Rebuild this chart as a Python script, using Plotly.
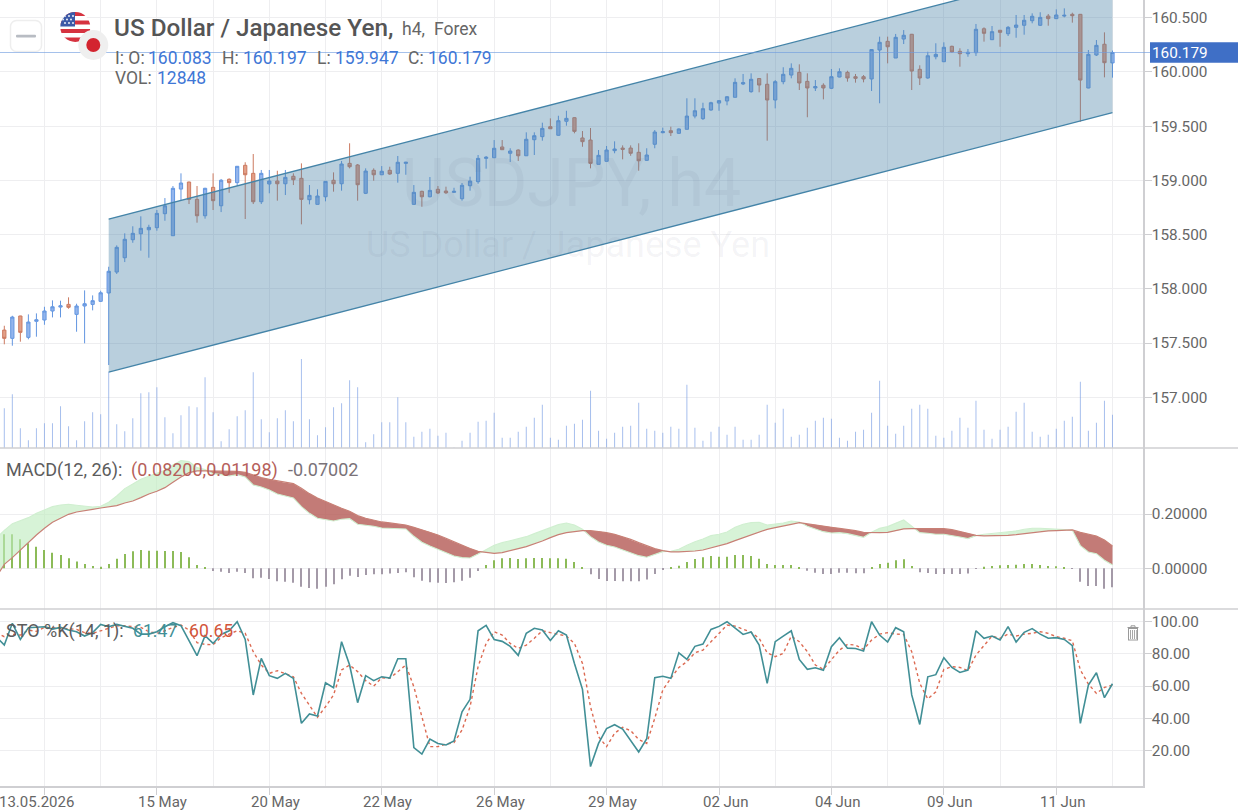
import base64
import plotly.graph_objects as go

# USD/JPY four-hour session data
opens = [157.620,157.544,157.750,157.553,157.701,157.713,157.796,157.832,157.857,157.765,
157.842,157.857,157.885,157.962,158.155,158.287,158.453,158.508,158.545,158.564,
158.693,158.490,158.920,158.985,158.825,158.674,158.936,158.766,159.010,158.979,
159.139,159.065,158.803,158.967,158.994,158.969,159.038,159.019,158.822,158.779,
158.849,159.001,158.969,159.157,159.142,158.881,159.093,159.052,159.093,159.065,
159.157,158.779,158.899,158.849,158.918,158.902,158.890,158.831,158.951,158.988,
159.203,159.209,159.308,159.250,159.280,159.227,159.375,159.403,159.495,159.416,
159.545,159.578,159.391,159.372,159.148,159.176,159.274,159.298,159.298,159.259,
159.185,159.333,159.440,159.458,159.434,159.471,159.593,159.569,159.649,159.713,
159.732,159.766,159.889,159.818,159.939,159.886,159.741,159.910,159.971,159.996,
159.913,159.852,159.877,159.849,159.953,159.996,159.956,159.956,159.935,160.202,
160.282,160.128,160.303,160.347,160.024,159.944,160.140,160.094,160.236,160.190,
160.168,160.177,160.398,160.297,160.384,160.352,160.411,160.430,160.472,160.430,
160.515,160.491,160.515,160.531,160.531,159.852,160.156,160.255,160.083]
highs = [157.660,157.752,157.752,157.765,157.774,157.835,157.894,157.891,157.922,157.863,
157.986,157.940,157.983,158.204,158.401,158.512,158.577,158.669,158.591,158.727,
158.837,158.948,159.065,158.988,158.948,158.932,159.065,159.013,159.019,159.132,
159.167,159.243,159.096,159.096,159.089,159.096,159.065,159.157,158.957,158.918,
158.994,159.074,159.179,159.342,159.151,159.111,159.111,159.132,159.126,159.225,
159.172,158.957,158.905,159.031,158.948,158.942,158.932,158.976,159.034,159.234,
159.225,159.372,159.372,159.296,159.286,159.443,159.443,159.532,159.572,159.596,
159.642,159.582,159.455,159.483,159.280,159.317,159.360,159.323,159.323,159.342,
159.296,159.464,159.486,159.495,159.480,159.757,159.757,159.716,159.725,159.741,
159.778,159.941,159.981,159.987,159.941,159.987,159.925,160.043,160.079,160.070,
159.987,159.925,159.895,160.027,160.033,160.011,159.981,159.971,160.208,160.325,
160.325,160.350,160.386,160.350,160.061,160.186,160.264,160.273,160.242,160.218,
160.211,160.442,160.411,160.423,160.386,160.423,160.525,160.525,160.540,160.550,
160.534,160.577,160.586,160.546,160.534,160.202,160.294,160.365,160.197]
lows = [157.489,157.476,157.513,157.535,157.559,157.669,157.737,157.737,157.817,157.605,
157.498,157.802,157.881,157.298,158.137,158.247,158.425,158.352,158.287,158.536,
158.628,158.490,158.813,158.782,158.610,158.647,158.727,158.708,158.886,158.951,
158.644,158.782,158.782,158.881,158.813,158.865,158.957,158.595,158.779,158.779,
158.807,158.896,158.905,159.111,158.813,158.874,158.997,159.049,159.052,158.979,
159.052,158.776,158.757,158.844,158.874,158.874,158.886,158.813,158.905,158.969,
159.108,159.209,159.283,159.169,159.179,159.227,159.234,159.366,159.474,159.412,
159.504,159.434,159.310,159.111,159.148,159.172,159.250,159.194,159.227,159.089,
159.181,159.296,159.434,159.409,159.430,159.471,159.572,159.557,159.642,159.642,
159.692,159.766,159.879,159.808,159.812,159.366,159.664,159.886,159.941,159.833,
159.582,159.824,159.747,159.842,159.950,159.910,159.901,159.904,159.824,159.711,
160.079,160.128,160.257,159.833,159.879,159.937,160.116,160.091,160.177,160.048,
160.140,160.147,160.279,160.294,160.232,160.331,160.315,160.343,160.448,160.423,
160.426,160.488,160.503,160.454,159.541,159.849,160.147,159.950,159.947]
closes = [157.544,157.740,157.599,157.694,157.715,157.796,157.835,157.844,157.830,157.842,
157.863,157.891,157.964,158.162,158.383,158.457,158.512,158.558,158.567,158.696,
158.766,158.927,158.976,158.825,158.674,158.927,158.813,159.001,158.979,159.130,
159.052,158.803,159.065,158.994,158.969,159.028,159.006,158.825,158.862,158.856,
158.991,158.969,159.151,159.126,158.960,159.086,159.052,159.084,159.059,159.167,
159.167,158.890,158.849,158.908,158.884,158.886,158.899,158.955,158.994,159.203,
159.213,159.296,159.283,159.271,159.227,159.379,159.412,159.480,159.476,159.550,
159.572,159.452,159.357,159.157,159.231,159.280,159.289,159.286,159.250,159.181,
159.234,159.446,159.449,159.440,159.474,159.593,159.642,159.661,159.716,159.735,
159.771,159.904,159.901,159.932,159.879,159.741,159.910,159.978,160.033,159.898,
159.852,159.865,159.852,159.956,160.002,159.944,159.941,159.935,160.206,160.273,
160.232,160.319,160.338,160.008,159.944,160.149,160.162,160.227,160.184,160.168,
160.181,160.393,160.356,160.371,160.365,160.411,160.432,160.476,160.513,160.503,
160.491,160.525,160.522,160.518,159.925,160.162,160.245,160.085,160.179]
volumes = [15324,20728,7604,2972,7604,9534,9534,16096,8376,2972,
10306,13780,13008,29336,9148,6446,11464,21114,21500,23430,
11850,5674,12622,16096,15710,27290,13780,2586,7218,12236,
14552,29220,11078,6060,11464,14552,10306,34354,11078,4902,
7990,15710,17254,26132,23430,2200,5288,9920,9920,19570,
9920,4362,6292,7450,4748,5906,193,2818,5906,10152,
10538,13626,3976,3976,6292,8222,11696,16714,3976,3204,
8608,9380,10924,22118,6678,3590,5906,8222,8608,17486,
7450,6678,5906,8222,7450,24434,7836,2818,6292,8222,
5134,8222,3204,3204,5134,16714,9766,15170,4362,5134,
7836,10538,11696,11310,3976,2818,6292,7064,13626,25978,
8608,5520,8608,15170,16714,15170,4748,3976,6678,11696,
7836,18258,7064,3590,7064,8222,14012,17486,6292,4362,
5134,7450,10538,12082,25592,6678,9766,18258,12848]

# The indicator series carry one extra bar before the first candle
macd_main = [-0.0319,0.0147,0.0393,0.0675,0.0945,0.1228,0.1473,0.1694,0.1842,0.1989,0.2075,
0.2136,0.2173,0.2222,0.2271,0.2308,0.2406,0.2480,0.2603,0.2738,0.2836,
0.2971,0.3168,0.3364,0.3524,0.3585,0.3585,0.3585,0.3573,0.3573,0.3573,
0.3536,0.3438,0.3339,0.3278,0.3217,0.3155,0.3118,0.2947,0.2750,0.2590,
0.2455,0.2333,0.2210,0.2099,0.1940,0.1842,0.1768,0.1707,0.1670,0.1645,
0.1596,0.1510,0.1412,0.1338,0.1228,0.1105,0.0970,0.0847,0.0724,0.0626,
0.0577,0.0553,0.0577,0.0638,0.0724,0.0798,0.0896,0.1007,0.1130,0.1240,
0.1314,0.1363,0.1387,0.1387,0.1363,0.1314,0.1252,0.1166,0.1068,0.0945,
0.0823,0.0724,0.0651,0.0602,0.0602,0.0614,0.0638,0.0675,0.0749,0.0823,
0.0909,0.1019,0.1130,0.1228,0.1338,0.1436,0.1498,0.1547,0.1621,0.1682,
0.1633,0.1608,0.1559,0.1510,0.1473,0.1436,0.1387,0.1326,0.1314,0.1314,
0.1326,0.1375,0.1449,0.1461,0.1461,0.1461,0.1461,0.1461,0.1424,0.1363,
0.1289,0.1215,0.1191,0.1191,0.1191,0.1215,0.1240,0.1277,0.1314,0.1351,
0.1375,0.1387,0.1400,0.1412,0.1326,0.1252,0.1191,0.1044,0.08200]
macd_hist = [0.1420,0.1252,0.1252,0.1068,0.0921,0.0798,0.0675,0.0577,0.0491,0.0368,0.0246,
0.0160,0.0086,0.0061,0.0160,0.0356,0.0528,0.0626,0.0675,0.0651,0.0651,
0.0638,0.0638,0.0602,0.0405,0.0123,0.0049,-0.0098,-0.0123,-0.0172,-0.0123,
-0.0172,-0.0368,-0.0344,-0.0393,-0.0479,-0.0491,-0.0528,-0.0675,-0.0724,-0.0749,
-0.0675,-0.0589,-0.0405,-0.0270,-0.0319,-0.0246,-0.0221,-0.0221,-0.0196,-0.0172,
-0.0147,-0.0331,-0.0454,-0.0516,-0.0528,-0.0540,-0.0516,-0.0454,-0.0344,-0.0098,
0.0123,0.0295,0.0368,0.0381,0.0344,0.0368,0.0381,0.0381,0.0368,0.0368,
0.0356,0.0233,0.0049,-0.0221,-0.0393,-0.0467,-0.0467,-0.0479,-0.0479,-0.0479,
-0.0417,-0.0209,-0.0037,0.0025,0.0098,0.0233,0.0344,0.0405,0.0454,0.0430,
0.0430,0.0491,0.0491,0.0454,0.0356,0.0160,0.0123,0.0123,0.0123,0.0025,
-0.0086,-0.0160,-0.0209,-0.0209,-0.0160,-0.0160,-0.0184,-0.0184,0.0012,0.0160,
0.0209,0.0295,0.0331,0.0086,-0.0147,-0.0172,-0.0209,-0.0209,-0.0209,-0.0209,
-0.0196,-0.0012,0.0061,0.0086,0.0110,0.0123,0.0135,0.0160,0.0160,0.0123,
0.0086,0.0074,0.0025,-0.0012,-0.0491,-0.0651,-0.0651,-0.0749,-0.07002]
sto_k = [90.7,85.5,99.0,89.0,96.3,96.5,96.9,95.4,96.5,94.8,93.8,
91.1,93.2,98.3,96.9,98.3,96.9,95.9,92.3,92.3,93.8,
96.9,99.4,97.5,88.2,78.9,91.3,86.5,92.1,94.4,100.0,
89.0,54.5,77.2,66.5,64.8,67.9,64.8,36.9,42.7,41.4,
62.1,59.0,87.6,73.1,49.7,66.5,63.4,65.8,65.0,77.0,
77.0,21.8,17.8,27.1,24.4,23.4,25.9,44.1,51.8,94.4,
97.7,89.0,87.8,84.7,79.1,92.8,95.9,94.8,88.4,94.4,
91.7,74.1,58.0,10.0,24.4,33.6,36.0,33.3,26.5,19.1,
27.3,65.2,66.1,64.8,80.7,76.6,84.7,86.1,95.2,97.1,
100.0,95.9,92.1,93.6,85.5,61.7,87.6,91.1,94.4,76.6,
70.4,71.4,69.8,84.5,90.1,83.6,83.4,81.8,100.0,91.7,
87.4,96.3,93.8,54.5,36.2,65.8,67.1,77.6,71.6,68.5,
70.0,94.4,89.7,91.1,88.6,96.9,87.4,93.4,95.7,92.3,
89.7,90.1,89.0,85.1,36.9,60.7,68.3,52.8,61.47]
sto_d = [93.2,90.7,92.1,91.7,94.8,94.0,96.5,96.3,96.3,95.7,95.2,
93.2,92.8,94.2,95.9,97.5,97.5,96.9,96.5,93.8,92.8,
94.4,96.5,97.9,94.8,87.0,85.9,85.7,90.1,92.3,94.4,
92.8,81.4,73.1,67.9,69.6,67.9,65.8,55.5,48.3,40.6,
47.2,54.5,70.0,73.1,69.0,63.4,60.0,65.2,64.8,69.0,
73.1,59.6,41.0,22.4,22.4,24.0,24.9,32.7,47.2,72.1,
86.5,93.8,91.7,86.5,83.4,85.5,89.7,94.4,93.2,92.3,
91.1,86.5,74.1,47.2,28.6,22.4,30.7,34.4,32.3,26.9,
24.4,40.0,57.6,64.8,71.6,75.2,80.7,82.4,87.6,92.3,
97.9,97.3,95.2,93.4,89.7,80.7,78.3,80.3,91.1,87.6,
81.4,73.1,70.4,76.2,82.4,85.9,85.5,82.8,88.6,92.3,
93.2,92.3,92.1,81.4,61.7,52.0,56.5,70.4,72.1,71.6,
69.6,79.3,85.5,91.1,89.7,92.3,91.1,92.3,92.8,93.8,
92.8,90.7,89.7,88.2,70.0,61.3,55.5,59.2,60.65]

# Regression channel anchors: bar index and price at each end
channel_x = [13, 138]
channel_top = [158.644, 161.032]
channel_bottom = [157.233, 159.624]

date_ticks = [19, 33, 47, 61, 75, 89, 103, 117, 131]
date_labels = ["15 May", "20 May", "22 May", "26 May", "29 May", "02 Jun", "04 Jun", "09 Jun", "11 Jun"]
first_date_tick = 5
first_date_label = "13.05.2026"
grid_only_ticks = [12, 26, 40, 54, 68, 82, 96, 110, 124, 138]

price_ticks = [157.0, 157.5, 158.0, 158.5, 159.0, 159.5, 160.0, 160.5]
macd_ticks = [0.0, 0.2]
sto_ticks = [20, 40, 60, 80, 100]

ROBOTO = "Roboto"
GREY = "#666666"
BLUE = "#3f77d6"
AXIS = "#cfcfd2"
GRID = "#eeeef0"
WIDTH, HEIGHT = 1238, 812
PLOT_W, PLOT_H = 1143, 786


def px(x):
    return x / PLOT_W


def py(y):
    return 1 - y / PLOT_H


def label(x, y, text, size, color, anchor="left", weight=None):
    font = dict(family=ROBOTO, size=size, color=color)
    if weight:
        font["weight"] = weight
    return dict(xref="paper", yref="paper", x=px(x), y=py(y), text=text, showarrow=False,
                xanchor=anchor, yanchor="middle", align=anchor, font=font, borderpad=0, borderwidth=0)


def svg_uri(markup):
    return "data:image/svg+xml;base64," + base64.b64encode(markup.encode()).decode()


candle_x = list(range(len(opens)))
indicator_x = list(range(-1, len(opens)))
macd_signal = [m + h for m, h in zip(macd_main, macd_hist)]


def band_polygons(xs, upper, lower, positive):
    """Closed polygons where signal sits above (or below) the main line."""
    out_x, out_y = [], []
    run = []
    for i in range(len(xs)):
        d = upper[i] - lower[i]
        inside = d >= 0 if positive else d <= 0
        if inside:
            if not run and i > 0:
                d0 = upper[i - 1] - lower[i - 1]
                t = d0 / (d0 - d) if d0 != d else 0
                run.append((xs[i - 1] + t, lower[i - 1] + t * (lower[i] - lower[i - 1]),
                            lower[i - 1] + t * (lower[i] - lower[i - 1])))
            run.append((xs[i], upper[i], lower[i]))
        if run and (not inside or i == len(xs) - 1):
            if not inside:
                d0 = upper[i - 1] - lower[i - 1]
                t = d0 / (d0 - d) if d0 != d else 0
                v = lower[i - 1] + t * (lower[i] - lower[i - 1])
                run.append((xs[i - 1] + t, v, v))
            out_x += [r[0] for r in run] + [r[0] for r in reversed(run)] + [None]
            out_y += [r[1] for r in run] + [r[2] for r in reversed(run)] + [None]
            run = []
    return out_x, out_y


fig = go.Figure()

# Volume spikes behind the price panel
fig.add_trace(go.Bar(x=candle_x, y=volumes, width=0.125, xaxis="x", yaxis="y4",
                     marker=dict(color="rgba(125,160,228,0.68)", line=dict(width=0)), showlegend=False))

fig.add_trace(go.Candlestick(
    x=candle_x, open=opens, high=highs, low=lows, close=closes, xaxis="x", yaxis="y",
    whiskerwidth=0, showlegend=False,
    increasing=dict(line=dict(color="#6396e0", width=1), fillcolor="rgba(135,173,235,0.9)"),
    decreasing=dict(line=dict(color="#cc7a60", width=1), fillcolor="rgba(226,155,130,0.95)"),
))

# Channel band and its two edges sit on top of the candles
fig.add_trace(go.Scatter(
    x=channel_x + channel_x[::-1] + channel_x[:1],
    y=channel_top + channel_bottom[::-1] + channel_top[:1],
    mode="lines", line=dict(width=0), fill="toself", fillcolor="rgba(72,130,165,0.38)",
    xaxis="x", yaxis="y", showlegend=False, hoverinfo="skip"))
for edge in (channel_top, channel_bottom):
    fig.add_trace(go.Scatter(x=channel_x, y=edge, mode="lines", line=dict(color="#4484a8", width=1.3),
                             xaxis="x", yaxis="y", showlegend=False, hoverinfo="skip"))

# MACD panel
hist_colors = ["#8cbb58" if v >= 0 else "#a49aa8" for v in macd_hist]
fig.add_trace(go.Bar(x=indicator_x, y=macd_hist, width=0.125, xaxis="x2", yaxis="y2",
                     marker=dict(color=hist_colors, line=dict(width=0)), showlegend=False))
green_x, green_y = band_polygons(indicator_x, macd_signal, macd_main, True)
red_x, red_y = band_polygons(indicator_x, macd_signal, macd_main, False)
fig.add_trace(go.Scatter(x=green_x, y=green_y, mode="lines", line=dict(width=0), fill="toself",
                         fillcolor="rgba(190,236,190,0.62)", xaxis="x2", yaxis="y2",
                         showlegend=False, hoverinfo="skip"))
fig.add_trace(go.Scatter(x=red_x, y=red_y, mode="lines", line=dict(width=0), fill="toself",
                         fillcolor="rgba(180,90,85,0.8)", xaxis="x2", yaxis="y2",
                         showlegend=False, hoverinfo="skip"))
fig.add_trace(go.Scatter(x=indicator_x, y=macd_signal, mode="lines", line=dict(color="#d0efd0", width=1.1),
                         xaxis="x2", yaxis="y2", showlegend=False, hoverinfo="skip"))
fig.add_trace(go.Scatter(x=indicator_x, y=macd_main, mode="lines", line=dict(color="#c88076", width=1.2),
                         xaxis="x2", yaxis="y2", showlegend=False, hoverinfo="skip"))

# Stochastic panel
fig.add_trace(go.Scatter(x=indicator_x, y=sto_d, mode="lines", line=dict(color="#dc6a52", width=1.4, dash="dot"),
                         xaxis="x3", yaxis="y3", showlegend=False, hoverinfo="skip"))
fig.add_trace(go.Scatter(x=indicator_x, y=sto_k, mode="lines", line=dict(color="#418f96", width=1.6),
                         xaxis="x3", yaxis="y3", showlegend=False, hoverinfo="skip"))

x_range = [-0.5355, 141.8]
all_grid = sorted(date_ticks + [first_date_tick])


def x_axis(**extra):
    axis = dict(range=x_range, showgrid=True, gridcolor=GRID, gridwidth=1, zeroline=False, automargin=False,
                tickmode="array", tickvals=all_grid, ticktext=[""] * len(all_grid), ticks="",
                minor=dict(tickmode="array", tickvals=grid_only_ticks, showgrid=True,
                           gridcolor=GRID, gridwidth=1, ticks=""),
                rangeslider=dict(visible=False), showline=False)
    axis.update(extra)
    return axis


def y_axis(domain, rng, tickvals, fmt):
    return dict(domain=domain, range=rng, side="right", tickmode="array", tickvals=tickvals, tickformat=fmt,
                showgrid=True, gridcolor=GRID, gridwidth=1, zeroline=False, showline=True, linecolor=AXIS,
                linewidth=1.5, ticks="outside", ticklen=7, tickcolor=AXIS, tickwidth=1, automargin=False,
                ticklabelstandoff=-3, tickfont=dict(family=ROBOTO, size=15.3, color=GREY))


split_a = (PLOT_H - 448) / PLOT_H
split_b = (PLOT_H - 609) / PLOT_H

last = len(opens) - 1
box_half = 0.095
shapes = [
    dict(type="line", xref="paper", yref="paper", x0=0, x1=WIDTH / PLOT_W, y0=split_a, y1=split_a,
         line=dict(color=AXIS, width=1.5)),
    dict(type="line", xref="paper", yref="paper", x0=0, x1=WIDTH / PLOT_W, y0=split_b, y1=split_b,
         line=dict(color=AXIS, width=1.5)),
    dict(type="line", xref="paper", yref="y", x0=0, x1=WIDTH / PLOT_W, y0=closes[last], y1=closes[last],
         line=dict(color="rgba(110,155,222,0.62)", width=1)),
    dict(type="rect", xref="paper", yref="y", x0=px(1150), x1=WIDTH / PLOT_W,
         y0=closes[last] - box_half, y1=closes[last] + box_half,
         fillcolor="#3f6fc6", line=dict(width=0)),
    # Data-source badge next to the flag
    dict(type="circle", xref="paper", yref="paper", x0=px(78.3), x1=px(108.3), y0=py(60), y1=py(30),
         fillcolor="#efefef", line=dict(width=0)),
    dict(type="circle", xref="paper", yref="paper", x0=px(86.3), x1=px(100.3), y0=py(52), y1=py(38),
         fillcolor="#d3242f", line=dict(width=0)),
]

flag_svg = """<svg xmlns="http://www.w3.org/2000/svg" width="120" height="60" viewBox="0 0 120 60">
<defs><clipPath id="c"><circle cx="75.3" cy="27" r="15"/></clipPath></defs>
<rect x="10.5" y="20.5" width="31" height="31" rx="6" fill="#ffffff" stroke="#eeeeee" stroke-width="1.5"/>
<rect x="16" y="34.8" width="20" height="2.6" rx="1" fill="#b8bcc3"/>
<g clip-path="url(#c)"><rect x="60" y="12" width="31" height="31" fill="#ffffff"/>
<rect x="60" y="12" width="31" height="4" fill="#d63340"/><rect x="60" y="20.5" width="31" height="4" fill="#d63340"/>
<rect x="60" y="29" width="31" height="4" fill="#d63340"/><rect x="60" y="37.5" width="31" height="5" fill="#d63340"/>
<rect x="60" y="12" width="15" height="14.5" fill="#3c5aa8"/>
<g fill="#ffffff"><circle cx="65" cy="16" r="0.9"/><circle cx="69" cy="16" r="0.9"/><circle cx="73" cy="16" r="0.9"/>
<circle cx="63" cy="19.5" r="0.9"/><circle cx="67" cy="19.5" r="0.9"/><circle cx="71" cy="19.5" r="0.9"/>
<circle cx="65" cy="23" r="0.9"/><circle cx="69" cy="23" r="0.9"/><circle cx="73" cy="23" r="0.9"/></g></g></svg>"""

trash_svg = """<svg xmlns="http://www.w3.org/2000/svg" width="12" height="16" viewBox="0 0 12 16">
<g fill="none" stroke="#9a9a9a" stroke-width="1"><path d="M0.5 2.5H11.5"/><path d="M4 2.5V0.8H8V2.5"/>
<rect x="1.5" y="3.5" width="9" height="11.5"/></g>
<g fill="#a8a8a8"><rect x="3" y="5" width="1" height="9"/><rect x="5" y="5" width="1" height="9"/>
<rect x="7" y="5" width="1" height="9"/><rect x="9" y="5" width="0.8" height="9"/></g></svg>"""

images = [
    dict(source=svg_uri(flag_svg), xref="paper", yref="paper", x=0, y=1, sizex=px(120), sizey=60 / PLOT_H,
         xanchor="left", yanchor="top", sizing="stretch", layer="above"),
    dict(source=svg_uri(trash_svg), xref="paper", yref="paper", x=px(1127), y=py(625), sizex=px(12),
         sizey=16 / PLOT_H, xanchor="left", yanchor="top", sizing="stretch", layer="above"),
]

annotations = [
    # Watermark
    label(571, 183, "USDJPY, h4", 66, "rgba(95,110,130,0.075)", anchor="center"),
    label(568, 245, "US Dollar / Japanese Yen", 36, "rgba(95,110,130,0.07)", anchor="center"),
    # Header
    label(114, 28, "US Dollar / Japanese Yen,", 24.3, "#555555", weight=500),
    label(402, 29, "h4,", 17.5, "#666666"),
    label(434, 29, "Forex", 17.5, "#666666"),
    label(115, 58, "I: O:", 17.5, GREY),
    label(148, 58, f"{opens[last]:.3f}", 17.5, BLUE),
    label(222, 58, "H:", 17.5, GREY),
    label(243, 58, f"{highs[last]:.3f}", 17.5, BLUE),
    label(317, 58, "L:", 17.5, GREY),
    label(335, 58, f"{lows[last]:.3f}", 17.5, BLUE),
    label(408, 58, "C:", 17.5, GREY),
    label(428, 58, f"{closes[last]:.3f}", 17.5, BLUE),
    label(115, 78, "VOL:", 17.5, GREY),
    label(157, 78, f"{volumes[last]}", 17.5, BLUE),
    # Last-price tag
    label(1151.5, 53, f"{closes[last]:.3f}", 15.3, "#ffffff"),
    # Indicator readouts
    label(6, 470, "MACD(12, 26):", 18, "#5c5c5c"),
    label(131, 470, f"({macd_main[-1]:.5f},{macd_signal[-1]:.5f})", 18, "#b65f5b"),
    label(288, 470, f"{macd_hist[-1]:.5f}", 18, "#7a7278"),
    label(6, 631, "STO %K(14, 1):", 18, "#5c5c5c"),
    label(133, 631, f"{sto_k[-1]:.2f}", 17.6, "#418f96"),
    label(189, 631, f"{sto_d[-1]:.2f}", 17.6, "#d2553a"),
    # Oldest date label is pushed inward so it stays on the canvas
    label(-1, 802, first_date_label, 15, GREY),
]
# Date labels sit slightly to the right of their tick marks
for tick, text in zip(date_ticks, date_labels):
    annotations.append(dict(xref="x3", yref="paper", x=tick, y=py(802), xshift=6, text=text, showarrow=False,
                            xanchor="center", yanchor="middle", borderpad=0, borderwidth=0,
                            font=dict(family=ROBOTO, size=15, color=GREY)))

fig.update_layout(
    width=WIDTH, height=HEIGHT,
    margin=dict(l=0, r=WIDTH - PLOT_W, t=0, b=HEIGHT - PLOT_H, pad=0, autoexpand=False),
    paper_bgcolor="#ffffff", plot_bgcolor="#ffffff",
    showlegend=False, barmode="overlay", boxgap=0.42, hovermode=False,
    xaxis=x_axis(anchor="y"),
    xaxis2=x_axis(anchor="y2", matches="x"),
    xaxis3=x_axis(anchor="y3", matches="x", ticks="outside", ticklen=7, tickcolor=AXIS,
                  showline=True, linecolor=AXIS, linewidth=1.5),
    yaxis=y_axis([split_a, 1], [156.533, 160.663], price_ticks, ".3f"),
    yaxis2=y_axis([split_b, split_a], [-0.1499, 0.4431], macd_ticks, ".5f"),
    yaxis3=y_axis([0, split_b], [-2.05, 107.9], sto_ticks, ".2f"),
    yaxis4=dict(overlaying="y", range=[0, 172928], visible=False, side="left", anchor="x"),
    shapes=shapes, images=images, annotations=annotations,
)

fig.write_html("out.html")
